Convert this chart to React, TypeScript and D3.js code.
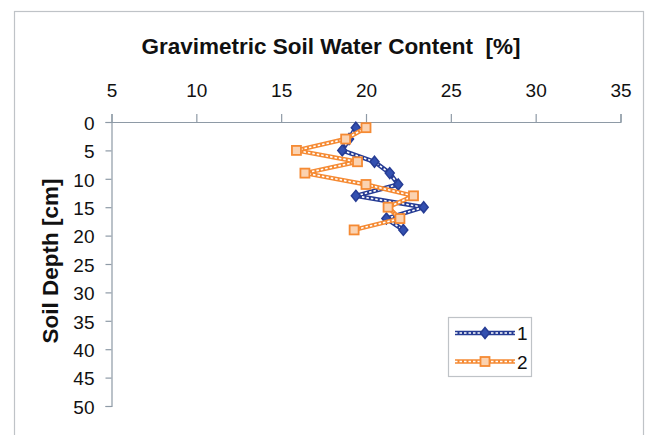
import React, { useEffect, useRef } from "react";
import * as d3 from "d3";

const depths = [1, 3, 5, 7, 9, 11, 13, 15, 17, 19];
const series1 = [19.4, 19.0, 18.6, 20.5, 21.4, 21.9, 19.4, 23.4, 21.2, 22.2];
const series2 = [20.0, 18.8, 15.9, 19.5, 16.4, 20.0, 22.8, 21.3, 22.0, 19.3];
const xTicks = [5, 10, 15, 20, 25, 30, 35];
const yTicks = [0, 5, 10, 15, 20, 25, 30, 35, 40, 45, 50];
const seriesNames = ["1", "2"];

const W = 650, H = 435;
const FONT = "Liberation Sans, Arial, sans-serif";

export default function App() {
  const ref = useRef<SVGSVGElement>(null);
  useEffect(() => {
    const svg = d3.select(ref.current);
    svg.selectAll("*").remove();
    svg.append("rect").attr("width", W).attr("height", H).attr("fill", "#fff");
    // outer frame
    svg.append("rect").attr("x", 14.5).attr("y", 11.5).attr("width", 629).attr("height", 440)
      .attr("fill", "none").attr("stroke", "#bfc3c7").attr("stroke-width", 1.2);

    const x = d3.scaleLinear().domain([5, 35]).range([111.5, 620.5]);
    const y = d3.scaleLinear().domain([0, 50]).range([122, 406]);
    const axisColor = "#8e9aa6";

    const gx = svg.append("g").attr("transform", `translate(0,${y(0)})`)
      .call(d3.axisTop(x).tickValues(xTicks).tickSize(8).tickPadding(17).tickFormat(d3.format("d")));
    const gy = svg.append("g").attr("transform", `translate(${x(5)},0)`)
      .call(d3.axisLeft(y).tickValues(yTicks).tickSize(6).tickPadding(11).tickFormat(d3.format("d")));
    [gx, gy].forEach(g => {
      g.select(".domain").attr("stroke", axisColor).attr("stroke-width", 1.2);
      g.selectAll(".tick line").attr("stroke", axisColor).attr("stroke-width", 1.2);
      g.selectAll(".tick text").attr("fill", "#111").attr("font-size", 19).attr("font-family", FONT);
    });
    gy.selectAll(".tick text").attr("dy", "0.38em");

    svg.append("text").attr("x", 331).attr("y", 54).attr("text-anchor", "middle")
      .attr("font-family", FONT).attr("font-weight", "bold").attr("font-size", 22.5).attr("fill", "#111")
      .attr("xml:space", "preserve")
      .text("Gravimetric Soil Water Content  [%]");
    svg.append("text").attr("transform", `translate(58,261) rotate(-90)`).attr("text-anchor", "middle")
      .attr("font-family", FONT).attr("font-weight", "bold").attr("font-size", 22.5).attr("fill", "#111")
      .text("Soil Depth [cm]");

    const colors = ["#263c94", "#f58a33"];
    const all = [series1, series2];
    const line = d3.line<[number, number]>().x(d => x(d[0])).y(d => y(d[1]));

    const drawChain = (g: any, dAttr: string, color: string) => {
      g.append("path").attr("d", dAttr).attr("fill", "none").attr("stroke", color)
        .attr("stroke-width", 4.5).attr("stroke-linejoin", "round");
      g.append("path").attr("d", dAttr).attr("fill", "none").attr("stroke", "#fff")
        .attr("stroke-width", 1.6).attr("stroke-dasharray", "2.5,2");
    };
    const drawMarker = (g: any, i: number, cx: number, cy: number) => {
      if (i === 0) {
        g.append("path").attr("d", `M${cx},${cy - 5.5}L${cx + 4.5},${cy}L${cx},${cy + 5.5}L${cx - 4.5},${cy}Z`)
          .attr("fill", "#3350b0").attr("stroke", colors[0]).attr("stroke-width", 1.5);
      } else {
        g.append("rect").attr("x", cx - 4.5).attr("y", cy - 4.5).attr("width", 9).attr("height", 9)
          .attr("fill", "#fbd2b0").attr("stroke", colors[1]).attr("stroke-width", 1.8);
      }
    };

    all.forEach((vals, i) => {
      const g = svg.append("g");
      const pts = vals.map((v, k) => [v, depths[k]] as [number, number]);
      drawChain(g, line(pts)!, colors[i]);
      pts.forEach(p => drawMarker(g, i, x(p[0]), y(p[1])));
    });

    // legend
    const lg = svg.append("g");
    lg.append("rect").attr("x", 448.5).attr("y", 317.5).attr("width", 83).attr("height", 59)
      .attr("fill", "#fff").attr("stroke", "#bfc3c7").attr("stroke-width", 1.2);
    seriesNames.forEach((name, i) => {
      const ly = 333 + i * 28.5;
      drawChain(lg, `M455,${ly}L515,${ly}`, colors[i]);
      drawMarker(lg, i, 485, ly);
      lg.append("text").attr("x", 517).attr("y", ly + 7).attr("font-family", FONT)
        .attr("font-size", 19).attr("fill", "#111").text(name);
    });
  }, []);
  return <svg ref={ref} width={W} height={H} style={{ display: "block", position: "absolute", left: 0, top: 0 }} />;
}
